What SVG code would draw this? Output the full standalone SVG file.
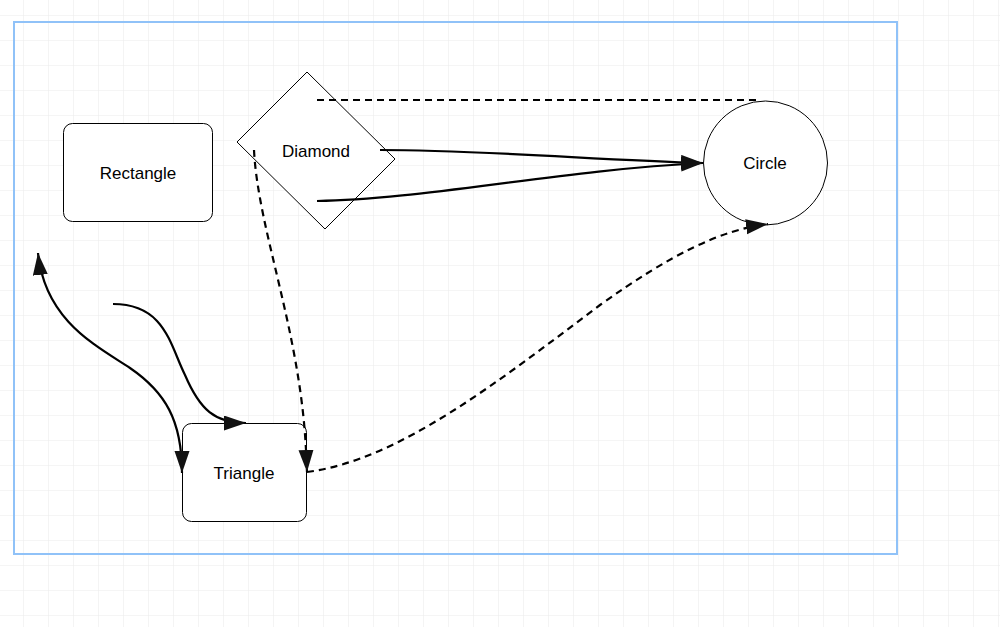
<svg xmlns="http://www.w3.org/2000/svg" width="1000" height="627" viewBox="0 0 1000 627">
<style>
.node{fill:#ffffff;stroke:#000000;stroke-width:1}
.lbl{font-family:"Liberation Sans",Arial,sans-serif;font-size:17px;fill:#000000;text-anchor:middle}
.edge{fill:none;stroke:#000000;stroke-width:2.2}
.dash{stroke-dasharray:7 5}
</style>
<defs>
<pattern id="grid" patternUnits="userSpaceOnUse" x="23" y="15" width="25" height="25">
<path d="M0 0 H25 M0 0 V25" fill="none" stroke="#ececec" stroke-width="1.2"/>
</pattern>
<marker id="arr" markerUnits="userSpaceOnUse" markerWidth="24" markerHeight="16" refX="22" refY="7.5" orient="auto-start-reverse" viewBox="0 0 24 16">
<path d="M0 0 L22 7.5 L0 15 Z" fill="#111111"/>
</marker>
</defs>
<rect width="1000" height="627" fill="#ffffff"/>
<rect width="1000" height="627" fill="url(#grid)"/>
<rect x="14" y="22" width="883" height="532" fill="none" stroke="#90c2f8" stroke-width="2"/>
<g id="rectangle">
<rect class="node" x="63.5" y="123.5" width="149" height="98" rx="9"/>
<text class="lbl" x="138" y="179">Rectangle</text>
</g>
<g id="diamond">
<polygon class="node" stroke="#333333" points="307,72 395,159 325,229 237,142"/>
<text class="lbl" x="316" y="157">Diamond</text>
</g>
<g id="circle">
<circle class="node" stroke="#222222" cx="765.5" cy="163" r="62"/>
<text class="lbl" x="765" y="169">Circle</text>
</g>
<g id="triangle">
<rect class="node" x="182.5" y="423.5" width="124" height="98" rx="9"/>
<text class="lbl" x="244" y="479">Triangle</text>
</g>
<g id="connectors">
<path class="edge dash" d="M317 100 H761"/>
<path class="edge" d="M380 150 C480 150,600 160,703 163" marker-end="url(#arr)"/>
<path class="edge" d="M317 201 C420 200,560 170,703 163" marker-end="url(#arr)"/>
<path class="edge dash" d="M254 150 C258 230,300 330,306 450 L307 472" marker-end="url(#arr)"/>
<path class="edge dash" d="M307 472 C400 460,500 380,600 305 C670 255,720 230,768 224" marker-end="url(#arr)"/>
<path class="edge" d="M113 304 C165 304,170 345,185 375 C200 410,215 423,246 423" marker-end="url(#arr)"/>
<path class="edge" d="M38 253 C45 320,95 345,130 368 C165 392,182 420,182 473" marker-start="url(#arr)" marker-end="url(#arr)"/>
</g>
</svg>
